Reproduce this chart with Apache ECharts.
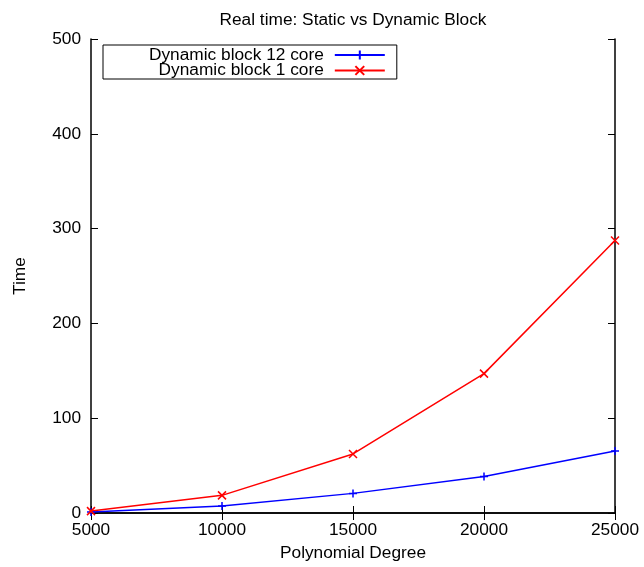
<!DOCTYPE html>
<html>
<head>
<meta charset="utf-8">
<script src="https://cdn.jsdelivr.net/npm/echarts@6/dist/echarts.min.js"></script>
<style>
  html, body { margin: 0; padding: 0; background: #fff; }
  #chart { width: 644px; height: 567px; }
</style>
</head>
<body>
<div id="chart"></div>
<script>
// Polynomial degrees on the x axis
var degrees = [5000, 10000, 15000, 20000, 25000];
// Real time measurements per configuration
var dyn12core = [1, 7.4, 20.7, 38.5, 65.4];
var dyn1core = [2, 18.6, 62.3, 147, 287.5];

var seriesNames = ['Dynamic block 12 core', 'Dynamic block 1 core'];

var FONT = 'Liberation Sans, Arial, sans-serif';
var FS = 17.3;

// gnuplot-style markers: plus and cross drawn as stroked paths
var plusSymbol = 'path://M0,-1 L0,1 M-1,0 L1,0';
var crossSymbol = 'path://M-1,-1 L1,1 M-1,1 L1,-1';

function pairs(xs, ys) {
  return xs.map(function (x, i) { return [x, ys[i]]; });
}

var frameLine = { show: true, lineStyle: { color: '#000', width: 1.5 } };
var innerTick = { show: true, inside: true, length: 7, lineStyle: { color: '#000', width: 1 } };

var chart = echarts.init(document.getElementById('chart'), null, { renderer: 'canvas' });
chart.setOption({
  animation: false,
  backgroundColor: '#fff',
  title: {
    text: 'Real time: Static vs Dynamic Block',
    left: 348,
    top: 7,
    textAlign: 'center',
    textStyle: { fontFamily: FONT, fontSize: FS, fontWeight: 'normal', color: '#000', lineHeight: 17 }
  },
  grid: { left: 91, right: 29, top: 39, bottom: 52 },
  legend: {
    orient: 'vertical',
    align: 'right',
    left: 103,
    top: 45,
    padding: [1.5, 11, 0, 46],
    itemGap: -1.5,
    itemWidth: 50,
    itemHeight: 11,
    borderColor: '#000',
    borderWidth: 1,
    borderRadius: 0,
    textStyle: { fontFamily: FONT, fontSize: FS, color: '#000', lineHeight: 15, padding: [0, 6, 0, 0] },
    data: seriesNames
  },
  xAxis: [{
    type: 'value',
    position: 'bottom',
    min: 5000, max: 25000, interval: 5000,
    name: 'Polynomial Degree',
    nameLocation: 'middle',
    nameGap: 32,
    nameTextStyle: { fontFamily: FONT, fontSize: FS, color: '#000', lineHeight: 17 },
    axisLine: frameLine,
    axisTick: innerTick,
    axisLabel: {
      margin: 9, fontFamily: FONT, fontSize: FS, color: '#000', lineHeight: 17,
      formatter: function (v) { return String(v); }
    },
    splitLine: { show: false }
  }, {
    type: 'value',
    position: 'top',
    min: 5000, max: 25000, interval: 5000,
    axisLine: frameLine,
    axisTick: innerTick,
    axisLabel: { show: false },
    splitLine: { show: false }
  }],
  yAxis: [{
    type: 'value',
    position: 'left',
    min: 0, max: 500, interval: 100,
    name: 'Time',
    nameLocation: 'middle',
    nameRotate: 90,
    nameGap: 62,
    nameTextStyle: { fontFamily: FONT, fontSize: FS, color: '#000' },
    axisLine: frameLine,
    axisTick: innerTick,
    axisLabel: { margin: 10, fontFamily: FONT, fontSize: FS, color: '#000' },
    splitLine: { show: false }
  }, {
    type: 'value',
    position: 'right',
    min: 0, max: 500, interval: 100,
    axisLine: frameLine,
    axisTick: innerTick,
    axisLabel: { show: false },
    splitLine: { show: false }
  }],
  series: [{
    name: seriesNames[0],
    type: 'line',
    xAxisIndex: 0, yAxisIndex: 0,
    data: pairs(degrees, dyn12core),
    symbol: plusSymbol,
    symbolSize: 8,
    showAllSymbol: true,
    clip: false,
    lineStyle: { color: '#0000ff', width: 1.5 },
    itemStyle: { color: '#0000ff', borderColor: '#0000ff', borderWidth: 1.5 }
  }, {
    name: seriesNames[1],
    type: 'line',
    xAxisIndex: 0, yAxisIndex: 0,
    data: pairs(degrees, dyn1core),
    symbol: crossSymbol,
    symbolSize: 8,
    showAllSymbol: true,
    clip: false,
    lineStyle: { color: '#ff0000', width: 1.5 },
    itemStyle: { color: '#ff0000', borderColor: '#ff0000', borderWidth: 1.5 }
  }]
});
</script>
</body>
</html>
